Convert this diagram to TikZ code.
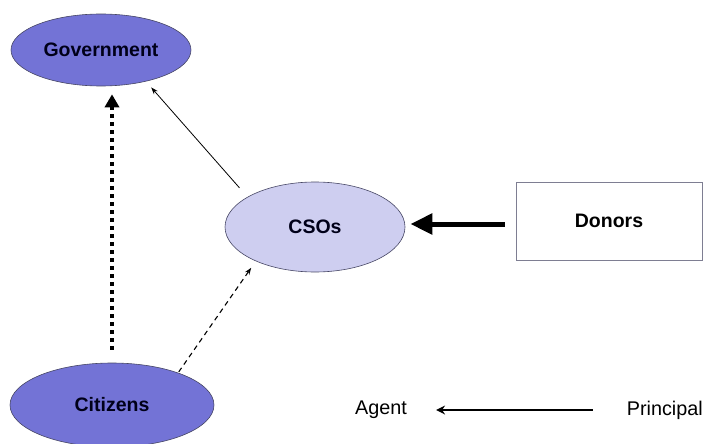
\documentclass[tikz,border=0pt]{standalone}
\usepackage{fontspec}
\setmainfont{Liberation Sans}
\usetikzlibrary{shapes.geometric,arrows.meta}
\definecolor{darkblob}{RGB}{115,115,214}
\definecolor{lightblob}{RGB}{206,206,240}
\definecolor{rim}{RGB}{70,70,100}
\begin{document}
\begin{tikzpicture}[x=1pt,y=-1pt,
  blob/.style={ellipse,draw=rim,line width=0.6pt,inner sep=0pt,font=\fontsize{19.5}{21}\selectfont\bfseries,text=black!90!blue},
  boxnode/.style={rectangle,draw=rim!70,line width=0.6pt,inner sep=0pt,font=\fontsize{19.5}{21}\selectfont\bfseries},
  plain/.style={inner sep=0pt,font=\fontsize{19.8}{21}\selectfont},
  thinarrow/.style={line width=0.8pt,-{Stealth[length=7pt,width=5pt]}}
]
\useasboundingbox (0,0) rectangle (704,444);
\begin{scope}
\clip (0,0) rectangle (704,444);
\node[blob,fill=darkblob,minimum width=180pt,minimum height=72pt] (gov) at (101,50) {Government};
\node[blob,fill=lightblob,minimum width=180pt,minimum height=90pt] (cso) at (315,227) {CSOs};
\node[blob,fill=darkblob,minimum width=204pt,minimum height=84pt] (cit) at (112,405) {Citizens};
\node[boxnode,minimum width=186pt,minimum height=78pt] (don) at (609,221) {Donors};
\node[plain] (agent) at (381,410) {Agent};
\node[plain,anchor=east] (princ) at (703,410) {Principal};
\end{scope}
\coordinate (dw) at ([yshift=-3pt]don.west);
% Citizens -> Government (dotted, thick)
\draw[line width=4pt,dash pattern=on 4pt off 4pt,shorten <=13pt,shorten >=8pt,
  -{Triangle[length=13pt,width=14pt]}] (cit.north) -- (cit.north |- gov.south);
% CSOs -> Government
\draw[thinarrow,shorten <=12pt,shorten >=8pt] (cso.156) -- (gov.-35);
% Citizens -> CSOs (dashed)
\draw[line width=1.1pt,dash pattern=on 5pt off 4pt,shorten <=1pt,shorten >=8pt,
  -{Stealth[length=7pt,width=5pt]}] (cit.26) -- (cso.210);
% Donors -> CSOs (thick)
\draw[line width=5pt,shorten <=11pt,shorten >=5pt,
  -{Triangle[length=22pt,width=20pt]}] (dw) -- (cso.east |- dw);
% legend
\draw[line width=1.4pt,shorten <=34pt,shorten >=29pt,
  -{Stealth[length=9pt,width=9pt]}] (princ.west) -- (agent.east);
\end{tikzpicture}
\end{document}
